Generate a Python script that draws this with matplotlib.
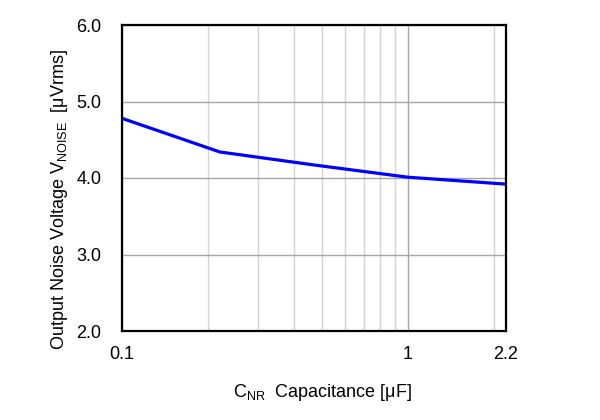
import matplotlib
matplotlib.use("Agg")
import matplotlib.pyplot as plt
from matplotlib.ticker import FixedLocator, NullFormatter, FixedFormatter

plt.rcParams['font.family'] = ['Liberation Sans', 'DejaVu Sans']
plt.rcParams['mathtext.fontset'] = 'custom'
plt.rcParams['mathtext.rm'] = 'Liberation Sans'
plt.rcParams['mathtext.it'] = 'Liberation Sans'

cap_uF = [0.1, 0.22, 0.47, 1.0, 2.2]
noise_uVrms = [4.78, 4.34, 4.17, 4.01, 3.92]

x_ticks = [0.1, 1, 2.2]
x_tick_labels = ['0.1', '1', '2.2']
x_minor = [0.2, 0.3, 0.4, 0.5, 0.6, 0.7, 0.8, 0.9, 2.0]
y_ticks = [2.0, 3.0, 4.0, 5.0, 6.0]

fig = plt.figure(figsize=(6, 4.2), dpi=100)
ax = fig.add_axes([122/600, 89/420, 384/600, 306/420])

ax.plot(cap_uF, noise_uVrms, color='#0000ff', lw=2.3, zorder=3, solid_capstyle='butt')

ax.set_xscale('log')
ax.set_xlim(0.1, 2.2)
ax.set_ylim(2.0, 6.0)

ax.xaxis.set_major_locator(FixedLocator(x_ticks))
ax.xaxis.set_major_formatter(FixedFormatter(x_tick_labels))
ax.xaxis.set_minor_locator(FixedLocator(x_minor))
ax.xaxis.set_minor_formatter(NullFormatter())
ax.set_yticks(y_ticks)
ax.set_yticklabels([f'{v:.1f}' for v in y_ticks])

ax.grid(True, which='major', axis='both', color='#a6a6a6', lw=1.0)
ax.grid(True, which='minor', axis='x', color='#d4d4d4', lw=1.0)
ax.set_axisbelow(True)

ax.tick_params(axis='both', which='both', length=0, labelsize=13, colors='black')
ax.tick_params(axis='x', pad=11)
ax.tick_params(axis='y', pad=15)

for s in ax.spines.values():
    s.set_color('black')
    s.set_linewidth(1.6)
    s.set_zorder(4)

ax.set_xlabel(r'C$_{\mathrm{NR}}$  Capacitance [μF]', fontsize=13)
ax.set_ylabel(r'Output Noise Voltage V$_{\mathrm{NOISE}}$  [μVrms]', fontsize=13)
ax.xaxis.set_label_coords(0.521, -0.168)
ax.yaxis.set_label_coords(-0.135, 0.43)

fig.savefig('out.png', dpi=100)
